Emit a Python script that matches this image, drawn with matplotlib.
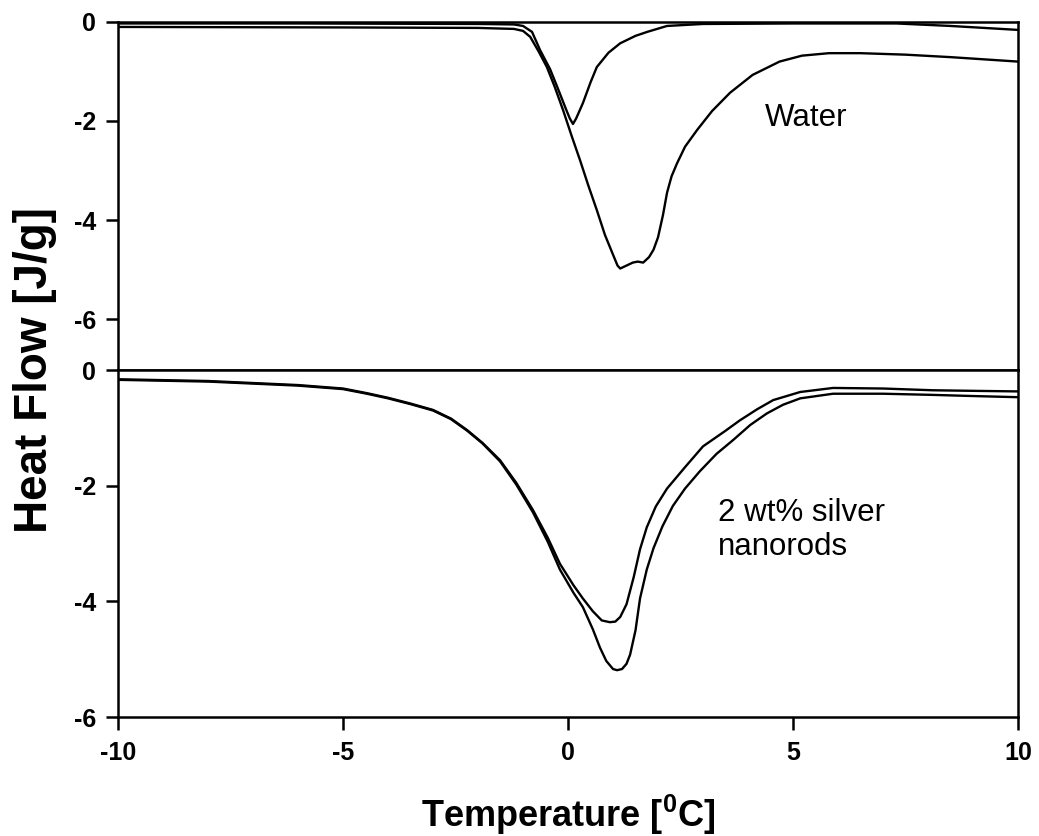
import matplotlib
matplotlib.use("Agg")
import matplotlib.pyplot as plt

plt.rcParams['font.family'] = ['Liberation Sans', 'DejaVu Sans']
plt.rcParams['mathtext.fontset'] = 'custom'
plt.rcParams['mathtext.rm'] = 'Liberation Sans:bold'
plt.rcParams['mathtext.bf'] = 'Liberation Sans:bold'

#%% water (top panel)
t_w1 = [-10, -6, -2, -1.2, -1.0, -0.8, -0.62, -0.4, -0.24, -0.05, 0.04, 0.11, 0.18,
        0.33, 0.5, 0.64, 0.9, 1.16, 1.5, 1.76, 2.2, 3, 5, 7.3, 8.5, 10]
hf_w1 = [-0.03, -0.03, -0.04, -0.05, -0.08, -0.2, -0.57, -0.95, -1.31, -1.75, -1.95, -2.06, -1.95,
         -1.64, -1.22, -0.91, -0.62, -0.43, -0.28, -0.2, -0.08, -0.04, -0.03, -0.03, -0.08, -0.16]

t_w2 = [-10, -5, -2, -1.2, -1.0, -0.84, -0.65, -0.47, -0.3, -0.11, 0.08, 0.27, 0.45, 0.64,
        0.82, 1.0, 1.1, 1.16, 1.3, 1.44, 1.55, 1.67, 1.8, 1.9, 2.0, 2.11, 2.2, 2.3, 2.42, 2.6,
        2.87, 3.2, 3.6, 4.1, 4.7, 5.2, 5.8, 6.5, 7.5, 8.5, 10]
hf_w2 = [-0.1, -0.11, -0.12, -0.14, -0.18, -0.3, -0.6, -0.91, -1.3, -1.78, -2.3, -2.8, -3.3, -3.8,
         -4.3, -4.7, -4.92, -4.98, -4.92, -4.86, -4.84, -4.86, -4.75, -4.6, -4.35, -3.9, -3.45, -3.12,
         -2.86, -2.52, -2.18, -1.8, -1.43, -1.07, -0.8, -0.68, -0.63, -0.63, -0.66, -0.71, -0.8]

#%% 2 wt% silver nanorods (bottom panel)
t_ag1 = [-10, -8, -6, -5, -4.47, -4, -3.5, -3.0, -2.6, -2.24, -1.9, -1.51, -1.15, -0.78,
         -0.45, -0.18, 0.12, 0.33, 0.55, 0.75, 0.93, 1.05, 1.16, 1.3, 1.46, 1.6, 1.75,
         1.95, 2.2, 2.6, 3.0, 3.5, 3.82, 4.2, 4.56, 5.16, 5.89, 7, 8.1, 9, 10]
hf_ag1 = [-0.16, -0.19, -0.26, -0.32, -0.4, -0.48, -0.58, -0.69, -0.84, -1.04, -1.26, -1.56, -1.95, -2.42,
          -2.9, -3.35, -3.72, -3.95, -4.17, -4.33, -4.36, -4.35, -4.27, -4.05, -3.58, -3.1, -2.72,
          -2.36, -2.05, -1.68, -1.32, -1.05, -0.87, -0.68, -0.52, -0.38, -0.31, -0.32, -0.35, -0.36, -0.37]

t_ag2 = [-10, -8, -6, -5, -4.47, -4, -3.5, -3.0, -2.6, -2.24, -1.9, -1.51, -1.15, -0.78,
         -0.45, -0.18, 0.12, 0.33, 0.55, 0.71, 0.85, 1.0, 1.09, 1.2, 1.3, 1.38, 1.5, 1.6,
         1.75, 1.9, 2.1, 2.33, 2.6, 2.93, 3.3, 3.67, 4.05, 4.42, 4.78, 5.16, 5.89, 7, 8.1, 9, 10]
hf_ag2 = [-0.17, -0.2, -0.27, -0.33, -0.41, -0.49, -0.59, -0.7, -0.85, -1.05, -1.27, -1.58, -1.98, -2.46,
          -2.97, -3.45, -3.85, -4.10, -4.48, -4.80, -5.03, -5.17, -5.19, -5.17, -5.08, -4.92, -4.5, -3.95,
          -3.45, -3.08, -2.7, -2.35, -2.05, -1.75, -1.45, -1.21, -0.95, -0.75, -0.6, -0.49, -0.41, -0.41,
          -0.43, -0.45, -0.47]

y_ticks = [0, -2, -4, -6]
x_ticks = [-10, -5, 0, 5, 10]

fig = plt.figure(figsize=(10.39, 8.36), dpi=100)
ax1 = fig.add_axes([0.1136, 0.5574, 0.8662, 0.4163])
ax2 = fig.add_axes([0.1136, 0.1423, 0.8662, 0.4151], sharex=ax1)

ax1.plot(t_w1, hf_w1, color='black', lw=1.7)
ax1.plot(t_w2, hf_w2, color='black', lw=1.7)
ax2.plot(t_ag1, hf_ag1, color='black', lw=1.7)
ax2.plot(t_ag2, hf_ag2, color='black', lw=1.7)

ax1.set_xlim(-10, 10)
ax1.set_ylim(-7.03, 0)
ax2.set_ylim(-6, 0)

for ax in (ax1, ax2):
    ax.set_yticks(y_ticks)
    ax.set_yticklabels([str(v) for v in y_ticks])
    ax.tick_params(axis='y', direction='out', length=9, width=1.8, pad=7, labelsize=18)
    for lbl in ax.get_yticklabels():
        lbl.set_fontweight('bold')
    for sp in ax.spines.values():
        sp.set_linewidth(1.8)

ax1.tick_params(axis='x', bottom=False, labelbottom=False)
ax2.set_xticks(x_ticks)
ax2.set_xticklabels([str(v) for v in x_ticks])
ax2.tick_params(axis='x', direction='out', length=9, width=1.8, pad=8, labelsize=18)
for lbl in ax2.get_xticklabels():
    lbl.set_fontweight('bold')

ax1.text(4.38, -1.94, 'Water', fontsize=22.5, ha='left', va='center')
ax2.text(3.33, -2.77, '2 wt% silver\nnanorods', fontsize=22.5, ha='left', va='center',
         linespacing=1.15)

fig.text(0.034, 1 - 370 / 836, 'Heat Flow [J/g]', rotation=90, ha='center', va='center',
         fontsize=33, fontweight='bold')
fig.text(0.5467, 0.025, r'Temperature [$^{\mathbf{0}}$C]', ha='center', va='center',
         fontsize=26, fontweight='bold')

fig.savefig('out.png', dpi=100, facecolor='white')
